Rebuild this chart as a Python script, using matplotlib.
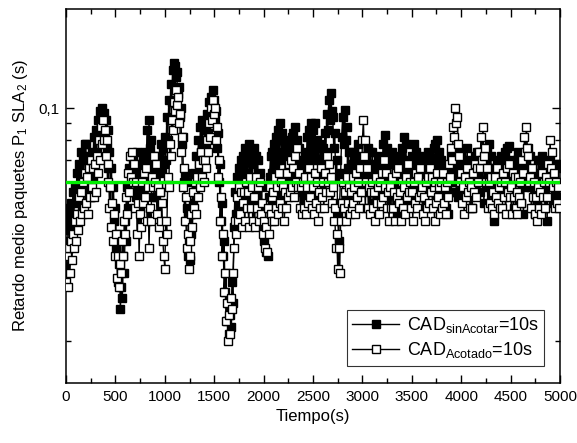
import numpy as np
import matplotlib
matplotlib.use("Agg")
import matplotlib.pyplot as plt
from matplotlib.ticker import FixedLocator, NullFormatter, FixedFormatter

plt.rcParams['font.family'] = ['Liberation Sans', 'DejaVu Sans']
plt.rcParams['mathtext.fontset'] = 'custom'
plt.rcParams['mathtext.rm'] = 'Liberation Sans'
plt.rcParams['mathtext.it'] = 'Liberation Sans'

tiempo = np.arange(0, 5000, 10)

cad_sin_acotar = [
    0.044, 0.050, 0.040, 0.048, 0.043, 0.052, 0.046, 0.056, 0.048, 0.058,
    0.052, 0.064, 0.054, 0.068, 0.058, 0.074, 0.060, 0.070, 0.062, 0.078,
    0.078, 0.060, 0.072, 0.056, 0.066, 0.054, 0.074, 0.062, 0.082, 0.070,
    0.086, 0.074, 0.092, 0.082, 0.098, 0.088, 0.100, 0.090, 0.097, 0.084,
    0.092, 0.076, 0.086, 0.066, 0.074, 0.058, 0.066, 0.050, 0.058, 0.046,
    0.050, 0.038, 0.042, 0.030, 0.034, 0.025, 0.029, 0.027, 0.036, 0.032,
    0.046, 0.040, 0.058, 0.050, 0.066, 0.056, 0.072, 0.060, 0.070, 0.056,
    0.066, 0.054, 0.074, 0.058, 0.068, 0.050, 0.064, 0.056, 0.072, 0.058,
    0.074, 0.062, 0.086, 0.070, 0.092, 0.076, 0.080, 0.060, 0.068, 0.054,
    0.066, 0.054, 0.072, 0.058, 0.068, 0.056, 0.078, 0.064, 0.076, 0.068,
    0.082, 0.070, 0.094, 0.080, 0.106, 0.092, 0.118, 0.104, 0.130, 0.137,
    0.134, 0.124, 0.128, 0.110, 0.116, 0.094, 0.100, 0.078, 0.082, 0.060,
    0.064, 0.046, 0.050, 0.036, 0.040, 0.035, 0.048, 0.042, 0.060, 0.052,
    0.064, 0.056, 0.072, 0.062, 0.080, 0.068, 0.088, 0.074, 0.092, 0.076,
    0.074, 0.086, 0.078, 0.096, 0.084, 0.104, 0.090, 0.108, 0.096, 0.113,
    0.106, 0.092, 0.098, 0.076, 0.084, 0.060, 0.068, 0.046, 0.052, 0.036,
    0.040, 0.028, 0.032, 0.023, 0.026, 0.021, 0.024, 0.022, 0.030, 0.026,
    0.044, 0.056, 0.048, 0.062, 0.054, 0.066, 0.058, 0.070, 0.060, 0.072,
    0.062, 0.076, 0.058, 0.070, 0.064, 0.078, 0.060, 0.072, 0.056, 0.068,
    0.076, 0.062, 0.072, 0.056, 0.070, 0.052, 0.064, 0.048, 0.058, 0.044,
    0.040, 0.050, 0.037, 0.046, 0.036, 0.054, 0.062, 0.072, 0.064, 0.074,
    0.064, 0.078, 0.068, 0.082, 0.070, 0.086, 0.074, 0.090, 0.072, 0.084,
    0.070, 0.080, 0.060, 0.074, 0.064, 0.078, 0.062, 0.076, 0.066, 0.082,
    0.084, 0.070, 0.088, 0.066, 0.080, 0.062, 0.076, 0.058, 0.070, 0.056,
    0.068, 0.058, 0.074, 0.064, 0.082, 0.070, 0.086, 0.074, 0.090, 0.078,
    0.086, 0.072, 0.090, 0.070, 0.080, 0.064, 0.076, 0.062, 0.078, 0.068,
    0.076, 0.066, 0.084, 0.074, 0.096, 0.086, 0.106, 0.092, 0.111, 0.098,
    0.094, 0.076, 0.084, 0.062, 0.070, 0.048, 0.040, 0.052, 0.064, 0.082,
    0.094, 0.078, 0.099, 0.080, 0.088, 0.066, 0.074, 0.056, 0.068, 0.060,
    0.074, 0.060, 0.070, 0.056, 0.072, 0.064, 0.078, 0.062, 0.070, 0.058,
    0.070, 0.056, 0.064, 0.050, 0.072, 0.060, 0.076, 0.062, 0.074, 0.058,
    0.074, 0.060, 0.068, 0.052, 0.064, 0.056, 0.072, 0.058, 0.070, 0.060,
    0.066, 0.078, 0.062, 0.083, 0.070, 0.076, 0.060, 0.072, 0.056, 0.068,
    0.074, 0.058, 0.070, 0.050, 0.064, 0.048, 0.068, 0.058, 0.072, 0.062,
    0.076, 0.064, 0.082, 0.068, 0.078, 0.060, 0.070, 0.052, 0.066, 0.058,
    0.072, 0.060, 0.078, 0.064, 0.074, 0.058, 0.068, 0.054, 0.072, 0.062,
    0.068, 0.054, 0.062, 0.050, 0.070, 0.058, 0.074, 0.060, 0.068, 0.056,
    0.070, 0.060, 0.076, 0.064, 0.078, 0.066, 0.080, 0.068, 0.074, 0.062,
    0.070, 0.056, 0.066, 0.052, 0.064, 0.050, 0.058, 0.048, 0.066, 0.056,
    0.072, 0.060, 0.076, 0.062, 0.070, 0.056, 0.066, 0.054, 0.074, 0.064,
    0.072, 0.058, 0.068, 0.056, 0.070, 0.062, 0.076, 0.060, 0.066, 0.054,
    0.064, 0.050, 0.070, 0.058, 0.072, 0.060, 0.074, 0.064, 0.068, 0.056,
    0.074, 0.060, 0.068, 0.052, 0.066, 0.058, 0.076, 0.064, 0.078, 0.066,
    0.072, 0.058, 0.066, 0.046, 0.060, 0.050, 0.068, 0.056, 0.070, 0.060,
    0.072, 0.058, 0.068, 0.062, 0.074, 0.060, 0.076, 0.064, 0.077, 0.066,
    0.070, 0.056, 0.066, 0.050, 0.064, 0.054, 0.070, 0.060, 0.074, 0.062,
    0.068, 0.052, 0.062, 0.048, 0.066, 0.058, 0.072, 0.060, 0.076, 0.064,
    0.072, 0.058, 0.066, 0.050, 0.064, 0.048, 0.062, 0.054, 0.070, 0.060,
    0.070, 0.058, 0.072, 0.054, 0.066, 0.050, 0.060, 0.046, 0.064, 0.054,
    0.070, 0.058, 0.066, 0.052, 0.064, 0.056, 0.068, 0.054, 0.066, 0.060,
]

cad_acotado = [
    0.030, 0.036, 0.029, 0.038, 0.032, 0.040, 0.035, 0.042, 0.038, 0.046,
    0.040, 0.048, 0.043, 0.054, 0.046, 0.056, 0.048, 0.060, 0.050, 0.064,
    0.052, 0.062, 0.048, 0.066, 0.054, 0.070, 0.058, 0.066, 0.054, 0.068,
    0.056, 0.072, 0.064, 0.080, 0.070, 0.088, 0.078, 0.092, 0.080, 0.086,
    0.072, 0.080, 0.060, 0.068, 0.050, 0.058, 0.044, 0.052, 0.040, 0.048,
    0.036, 0.042, 0.031, 0.036, 0.029, 0.034, 0.032, 0.040, 0.036, 0.046,
    0.042, 0.054, 0.048, 0.064, 0.056, 0.072, 0.062, 0.074, 0.060, 0.068,
    0.050, 0.060, 0.042, 0.052, 0.036, 0.048, 0.044, 0.060, 0.052, 0.064,
    0.054, 0.066, 0.046, 0.058, 0.038, 0.050, 0.046, 0.062, 0.058, 0.072,
    0.060, 0.068, 0.048, 0.058, 0.044, 0.056, 0.046, 0.052, 0.040, 0.036,
    0.033, 0.046, 0.042, 0.062, 0.058, 0.078, 0.072, 0.092, 0.086, 0.104,
    0.098, 0.113, 0.102, 0.108, 0.090, 0.096, 0.074, 0.082, 0.058, 0.066,
    0.046, 0.054, 0.038, 0.042, 0.033, 0.040, 0.036, 0.048, 0.044, 0.056,
    0.050, 0.060, 0.048, 0.062, 0.054, 0.068, 0.058, 0.074, 0.062, 0.070,
    0.060, 0.070, 0.066, 0.080, 0.074, 0.090, 0.082, 0.100, 0.092, 0.106,
    0.096, 0.100, 0.080, 0.088, 0.062, 0.070, 0.046, 0.054, 0.036, 0.042,
    0.028, 0.032, 0.023, 0.026, 0.020, 0.024, 0.021, 0.027, 0.025, 0.032,
    0.038, 0.046, 0.042, 0.054, 0.046, 0.058, 0.048, 0.056, 0.044, 0.052,
    0.056, 0.046, 0.060, 0.050, 0.056, 0.044, 0.062, 0.050, 0.058, 0.046,
    0.054, 0.044, 0.062, 0.050, 0.058, 0.046, 0.060, 0.048, 0.052, 0.042,
    0.046, 0.038, 0.044, 0.037, 0.050, 0.042, 0.058, 0.048, 0.054, 0.046,
    0.056, 0.046, 0.062, 0.050, 0.058, 0.048, 0.064, 0.052, 0.060, 0.050,
    0.058, 0.046, 0.056, 0.050, 0.064, 0.054, 0.068, 0.056, 0.070, 0.058,
    0.066, 0.054, 0.072, 0.060, 0.076, 0.058, 0.064, 0.050, 0.058, 0.048,
    0.060, 0.050, 0.062, 0.048, 0.058, 0.052, 0.066, 0.054, 0.062, 0.050,
    0.058, 0.048, 0.064, 0.052, 0.060, 0.046, 0.056, 0.050, 0.066, 0.054,
    0.060, 0.050, 0.064, 0.056, 0.072, 0.060, 0.068, 0.056, 0.062, 0.052,
    0.058, 0.046, 0.050, 0.038, 0.042, 0.033, 0.038, 0.032, 0.046, 0.052,
    0.060, 0.050, 0.056, 0.046, 0.062, 0.052, 0.058, 0.048, 0.056, 0.050,
    0.062, 0.052, 0.058, 0.048, 0.064, 0.054, 0.060, 0.050, 0.066, 0.056,
    0.080, 0.092, 0.072, 0.080, 0.060, 0.066, 0.050, 0.058, 0.048, 0.056,
    0.060, 0.050, 0.056, 0.046, 0.062, 0.052, 0.058, 0.048, 0.060, 0.052,
    0.064, 0.054, 0.070, 0.058, 0.064, 0.050, 0.056, 0.046, 0.058, 0.050,
    0.062, 0.050, 0.056, 0.046, 0.064, 0.054, 0.066, 0.052, 0.056, 0.046,
    0.060, 0.050, 0.058, 0.048, 0.062, 0.054, 0.068, 0.056, 0.060, 0.050,
    0.056, 0.046, 0.060, 0.052, 0.064, 0.050, 0.062, 0.054, 0.066, 0.056,
    0.058, 0.048, 0.054, 0.046, 0.060, 0.050, 0.062, 0.052, 0.066, 0.056,
    0.062, 0.050, 0.058, 0.046, 0.060, 0.052, 0.064, 0.054, 0.058, 0.048,
    0.060, 0.050, 0.064, 0.052, 0.058, 0.048, 0.060, 0.054, 0.068, 0.062,
    0.076, 0.070, 0.088, 0.082, 0.100, 0.090, 0.094, 0.078, 0.072, 0.060,
    0.064, 0.052, 0.058, 0.048, 0.062, 0.054, 0.066, 0.056, 0.060, 0.050,
    0.058, 0.050, 0.064, 0.056, 0.068, 0.054, 0.066, 0.060, 0.074, 0.066,
    0.082, 0.070, 0.088, 0.072, 0.076, 0.060, 0.066, 0.050, 0.060, 0.052,
    0.062, 0.050, 0.056, 0.048, 0.062, 0.054, 0.066, 0.052, 0.058, 0.050,
    0.060, 0.050, 0.064, 0.054, 0.060, 0.048, 0.066, 0.056, 0.068, 0.054,
    0.058, 0.048, 0.064, 0.054, 0.062, 0.050, 0.056, 0.048, 0.062, 0.054,
    0.060, 0.052, 0.070, 0.064, 0.082, 0.074, 0.088, 0.076, 0.072, 0.060,
    0.062, 0.050, 0.066, 0.054, 0.060, 0.048, 0.054, 0.046, 0.058, 0.050,
    0.056, 0.048, 0.064, 0.054, 0.060, 0.050, 0.062, 0.054, 0.068, 0.060,
    0.080, 0.066, 0.074, 0.058, 0.064, 0.050, 0.060, 0.052, 0.058, 0.050,
]

media = 0.060

x_ticks = [0, 500, 1000, 1500, 2000, 2500, 3000, 3500, 4000, 4500, 5000]
y_major = [0.1]
y_major_labels = ['0,1']
y_minor = [0.02, 0.05, 0.06, 0.07, 0.08, 0.09]

fig = plt.figure(figsize=(5.77, 4.43), dpi=100)
ax = fig.add_axes([0.1144, 0.1361, 0.8561, 0.8429])

ax.plot(tiempo, cad_sin_acotar, color='black', lw=1.0, marker='s', ms=6.4,
        mfc='black', mec='black', mew=1.0, zorder=2,
        label='CAD$_{\\mathrm{sinAcotar}}$=10s')
ax.plot(tiempo, cad_acotado, color='black', lw=1.0, marker='s', ms=6.4,
        mfc='white', mec='black', mew=1.0, zorder=3,
        label='CAD$_{\\mathrm{Acotado}}$=10s')
ax.axhline(media, color='#00ee00', lw=2.4, zorder=4)

ax.set_yscale('log')
ax.set_xlim(0, 5000)
ax.set_ylim(0.015, 0.198)

ax.xaxis.set_major_locator(FixedLocator(x_ticks))
ax.xaxis.set_minor_locator(FixedLocator(np.arange(250, 5000, 500)))
ax.yaxis.set_major_locator(FixedLocator(y_major))
ax.yaxis.set_major_formatter(FixedFormatter(y_major_labels))
ax.yaxis.set_minor_locator(FixedLocator(y_minor))
ax.yaxis.set_minor_formatter(NullFormatter())

ax.tick_params(which='both', direction='in', top=True, right=True,
               width=1.0, labelsize=11, pad=5)
ax.tick_params(which='major', length=5.5)
ax.tick_params(which='minor', length=3.5)
for s in ax.spines.values():
    s.set_linewidth(1.1)

ax.set_xlabel('Tiempo(s)', fontsize=12, labelpad=4)
ax.set_ylabel('Retardo medio paquetes P$_1$ SLA$_2$ (s)', fontsize=12, labelpad=6)

leg = ax.legend(loc='lower right', bbox_to_anchor=(0.968, 0.045), borderaxespad=0,
                fontsize=13, frameon=True, fancybox=False, edgecolor='black',
                handlelength=2.6, handletextpad=0.4, borderpad=0.3, labelspacing=0.3)
leg.get_frame().set_linewidth(0.8)
leg.set_zorder(5)

fig.savefig('out.png', dpi=100)
